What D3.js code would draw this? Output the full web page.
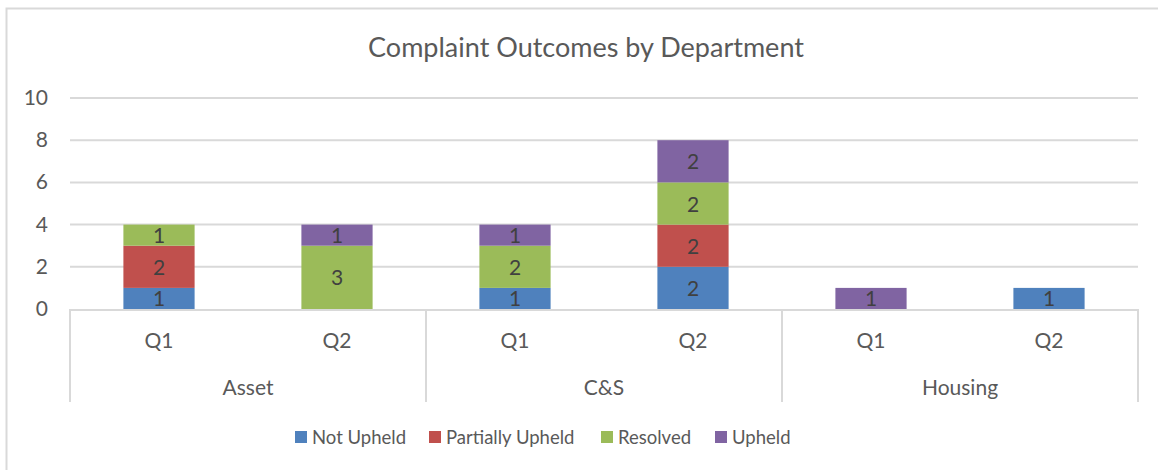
<!DOCTYPE html>
<meta charset='utf-8'>
<style>
	body { margin: 0; background: #fff; }
	text { font-family: Lato, 'Open Sans', sans-serif; fill: #595959; }
	.grid line { stroke: #d9d9d9; stroke-width: 2px; }
	.lbl { fill: #404040; text-anchor: middle; }
</style>
<body>
<script src='https://cdnjs.cloudflare.com/ajax/libs/d3/7.8.5/d3.min.js'></script>
<script type='text/javascript'>
	var departments = ['Asset', 'C&S', 'Housing'];
	var quarters = ['Q1', 'Q2'];
	var seriesNames = ['Not Upheld', 'Partially Upheld', 'Resolved', 'Upheld'];
	var seriesColors = ['#4f81bd', '#c0504d', '#9bbb59', '#8064a2'];
	// values per (department, quarter), in order Asset Q1, Asset Q2, C&S Q1, C&S Q2, Housing Q1, Housing Q2
	var notUpheld = [1, 0, 1, 2, 0, 1];
	var partiallyUpheld = [2, 0, 0, 2, 0, 0];
	var resolved = [1, 3, 2, 2, 0, 0];
	var upheld = [0, 1, 1, 2, 1, 0];
	var yTicks = [0, 2, 4, 6, 8, 10];

	var W = 1158, H = 470;
	var m = {left: 70, right: 1138, top: 98, bottom: 309};
	var fs = 21;

	var rows = [];
	departments.forEach(function (d, i) {
		quarters.forEach(function (q, j) {
			var k = i * quarters.length + j;
			rows.push({key: d + '|' + q, dept: d, q: q,
				'Not Upheld': notUpheld[k], 'Partially Upheld': partiallyUpheld[k],
				'Resolved': resolved[k], 'Upheld': upheld[k]});
		});
	});

	var svg = d3.select('body').append('svg').attr('width', W).attr('height', H);

	// chart frame
	svg.append('rect').attr('x', 6.5).attr('y', 8.5).attr('width', W + 10).attr('height', H + 10)
		.attr('fill', 'none').attr('stroke', '#d9d9d9').attr('stroke-width', 2);

	svg.append('text').attr('x', 586).attr('y', 57).attr('text-anchor', 'middle')
		.attr('font-size', 27).text('Complaint Outcomes by Department');

	var x = d3.scaleBand().domain(rows.map(function (r) { return r.key; }))
		.range([m.left, m.right]).paddingInner(0.6).paddingOuter(0.3);
	var deptX = d3.scaleBand().domain(departments).range([m.left, m.right]);
	var y = d3.scaleLinear().domain([0, 10]).range([m.bottom, m.top]);

	var grid = svg.append('g').attr('class', 'grid');
	grid.selectAll('line').data(yTicks.slice(1)).enter().append('line')
		.attr('x1', m.left).attr('x2', m.right)
		.attr('y1', function (d) { return y(d); }).attr('y2', function (d) { return y(d); });

	svg.selectAll('.ytick').data(yTicks).enter().append('text').attr('class', 'ytick')
		.attr('x', 48).attr('y', function (d) { return y(d) + 7; })
		.attr('text-anchor', 'end').attr('font-size', fs).text(function (d) { return d; });

	var stack = d3.stack().keys(seriesNames)(rows);
	var color = d3.scaleOrdinal().domain(seriesNames).range(seriesColors);

	var layers = svg.selectAll('.layer').data(stack).enter().append('g')
		.attr('fill', function (d) { return color(d.key); });
	layers.selectAll('rect').data(function (d) { return d.filter(function (s) { return s[1] > s[0]; }); })
		.enter().append('rect')
		.attr('x', function (s) { return x(s.data.key); })
		.attr('width', x.bandwidth())
		.attr('y', function (s) { return y(s[1]); })
		.attr('height', function (s) { return y(s[0]) - y(s[1]); });
	layers.selectAll('text').data(function (d) { return d.filter(function (s) { return s[1] > s[0]; }); })
		.enter().append('text').attr('class', 'lbl').attr('font-size', fs)
		.attr('x', function (s) { return x(s.data.key) + x.bandwidth() / 2; })
		.attr('y', function (s) { return (y(s[0]) + y(s[1])) / 2 + 8; })
		.text(function (s) { return s[1] - s[0]; });

	// multi-level category axis
	var axis = svg.append('g').attr('stroke', '#d9d9d9').attr('stroke-width', 2);
	axis.append('line').attr('x1', m.left).attr('x2', m.right).attr('y1', m.bottom + 1).attr('y2', m.bottom + 1);
	var seps = [m.left].concat(departments.map(function (d) { return deptX(d) + deptX.bandwidth(); }));
	axis.selectAll('.sep').data(seps).enter().append('line')
		.attr('x1', function (d) { return d; }).attr('x2', function (d) { return d; })
		.attr('y1', m.bottom).attr('y2', 402);

	svg.selectAll('.qlbl').data(rows).enter().append('text').attr('class', 'qlbl')
		.attr('x', function (r) { return x(r.key) + x.bandwidth() / 2; }).attr('y', 348)
		.attr('text-anchor', 'middle').attr('font-size', fs).text(function (r) { return r.q; });
	svg.selectAll('.dlbl').data(departments).enter().append('text').attr('class', 'dlbl')
		.attr('x', function (d) { return deptX(d) + deptX.bandwidth() / 2; }).attr('y', 395)
		.attr('text-anchor', 'middle').attr('font-size', fs).text(function (d) { return d; });

	// legend
	var legendX = [295, 429, 601, 715];
	var leg = svg.selectAll('.leg').data(seriesNames).enter().append('g')
		.attr('transform', function (d, i) { return 'translate(' + legendX[i] + ',437)'; });
	leg.append('rect').attr('x', 0).attr('y', -6).attr('width', 12).attr('height', 12)
		.attr('fill', function (d) { return color(d); });
	leg.append('text').attr('x', 17).attr('y', 7).attr('font-size', 18.5).text(function (d) { return d; });
</script>
</body>
